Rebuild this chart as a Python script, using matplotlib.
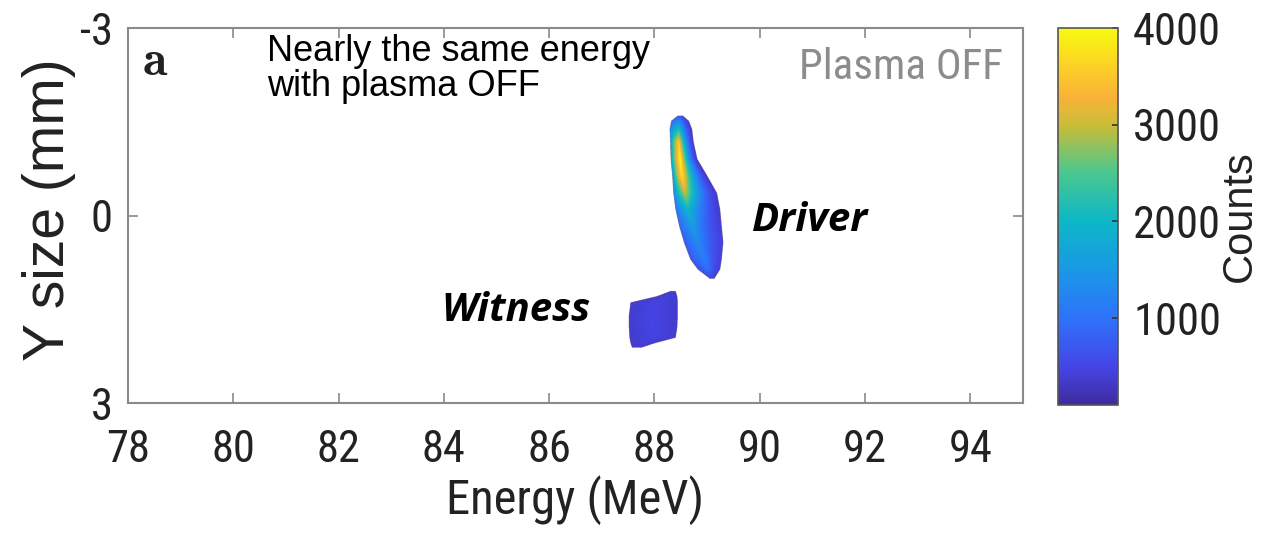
import numpy as np
import matplotlib
matplotlib.use('Agg')
import matplotlib.pyplot as plt
from matplotlib import font_manager
from matplotlib.font_manager import FontProperties
from matplotlib.colors import LinearSegmentedColormap

plt.rcParams['axes.unicode_minus'] = False

# axes ranges and ticks
energy_lim = (78, 95)
ysize_lim = (-3, 3)
energy_ticks = [78, 80, 82, 84, 86, 88, 90, 92, 94]
ysize_ticks = [-3, 0, 3]
count_lim = (100, 4000)
count_ticks = [1000, 2000, 3000, 4000]

# driver bunch, one entry per row: edges, ridge and counts (MeV, mm, counts)
driver_y = [-1.58, -1.50, -1.37, -1.16, -0.89, -0.62, -0.35, -0.09, 0.18, 0.44, 0.71, 0.87, 1.02]
driver_left = [88.44, 88.32, 88.29, 88.30, 88.31, 88.34, 88.36, 88.40, 88.47, 88.56, 88.68, 88.82, 89.05]
driver_right = [88.54, 88.65, 88.71, 88.74, 88.81, 89.00, 89.18, 89.24, 89.27, 89.30, 89.27, 89.24, 89.13]
driver_ridge = [88.49, 88.47, 88.46, 88.46, 88.49, 88.52, 88.58, 88.64, 88.73, 88.83, 88.95, 89.02, 89.09]
driver_peak = [700, 1300, 2100, 3600, 3980, 3800, 3000, 2000, 1550, 1300, 1150, 950, 500]
driver_cl = [500, 800, 1100, 1300, 1300, 1150, 1000, 850, 750, 650, 600, 500, 400]
driver_cr = [400, 380, 350, 330, 330, 330, 350, 380, 420, 450, 430, 400, 380]

# witness bunch
witness_y = [1.22, 1.30, 1.40, 1.60, 1.80, 1.96, 2.05, 2.12]
witness_left = [88.30, 88.05, 87.55, 87.52, 87.52, 87.53, 87.55, 87.58]
witness_right = [88.40, 88.43, 88.44, 88.44, 88.43, 88.40, 88.00, 87.75]
witness_peak = [380, 430, 470, 500, 500, 470, 430, 380]
witness_edge = [330, 350, 360, 370, 370, 360, 350, 330]

# parula-like colour map
parula_colors = [(0.25, 0.17, 0.62), (0.27, 0.27, 0.90), (0.18, 0.45, 0.98),
                 (0.10, 0.60, 0.90), (0.05, 0.72, 0.78), (0.30, 0.78, 0.55),
                 (0.78, 0.74, 0.22), (0.98, 0.70, 0.22), (0.99, 0.82, 0.15),
                 (0.97, 0.98, 0.06)]
parula_stops = [0.0, 0.10, 0.23, 0.36, 0.49, 0.62, 0.74, 0.82, 0.90, 1.0]


# look for a narrow sans face, the axis text is squeezed horizontally
def narrow_font_file():
	prefs = ['liberation sans narrow', 'arial narrow', 'roboto condensed', 'noto sans',
			 'open sans', 'dejavu sans']
	best = None
	for f in font_manager.fontManager.ttflist:
		name = f.name.lower()
		stretch = str(f.stretch).lower()
		fname = f.fname.lower()
		narrowish = ('narrow' in name or 'condensed' in name or 'condensed' in stretch
					 or 'condensed' in fname)
		if not narrowish or f.style != 'normal':
			continue
		if str(f.weight).lower() not in ('400', 'normal', 'regular', 'book'):
			continue
		if 'extra' in stretch or 'extra' in fname or 'ultra' in fname:
			continue
		rank = len(prefs)
		for i, p in enumerate(prefs):
			if name.startswith(p):
				rank = i
				break
		if 'semi' in stretch or 'semi' in fname:
			rank += 0.5
		if best is None or rank < best[0]:
			best = (rank, f.fname)
	return best[1] if best else None


narrow_file = narrow_font_file()


def narrow_props(size):
	if narrow_file:
		return FontProperties(fname=narrow_file, size=size)
	return FontProperties(family='Liberation Sans', size=size * 0.82)


regular = 'Liberation Sans'
bold_italic = 'Open Sans'

E = np.arange(87.2, 89.6, 0.004)
Y = np.arange(-1.8, 2.4, 0.004)
img = np.full((len(Y), len(E)), np.nan)


# fills every image row between the bunch edges
def paint(img, ys, left, right, ridge, c_left, c_peak, c_right, fall_l=0.7, fall_r=1.6):
	for i, y in enumerate(Y):
		if y < ys[0] or y > ys[-1]:
			continue
		l = np.interp(y, ys, left)
		r = np.interp(y, ys, right)
		p = np.interp(y, ys, ridge)
		p = min(max(p, l + 1e-3), r - 1e-3)
		cl = np.interp(y, ys, c_left)
		cp = np.interp(y, ys, c_peak)
		cr = np.interp(y, ys, c_right)
		tl = np.clip((E - l) / (p - l), 0, 1)
		tr = np.clip((r - E) / (r - p), 0, 1)
		row = np.where(E <= p, cl + (cp - cl) * tl ** fall_l, cr + (cp - cr) * tr ** fall_r)
		inside = (E >= l) & (E <= r)
		img[i, inside] = row[inside]


paint(img, driver_y, driver_left, driver_right, driver_ridge, driver_cl, driver_peak, driver_cr)
witness_mid = [(a + b) / 2 for a, b in zip(witness_left, witness_right)]
paint(img, witness_y, witness_left, witness_right, witness_mid, witness_edge, witness_peak,
	  witness_edge, 1.0, 1.0)

cmap = LinearSegmentedColormap.from_list('parula', list(zip(parula_stops, parula_colors)))

fig = plt.figure(figsize=(12.62, 5.37), dpi=100)
ax = fig.add_axes([0.1014, 0.2495, 0.7092, 0.6983])
im = ax.imshow(img, origin='lower', extent=[E[0], E[-1], Y[0], Y[-1]], aspect='auto',
			   cmap=cmap, vmin=count_lim[0], vmax=count_lim[1], interpolation='antialiased')
ax.set_xlim(*energy_lim)
ax.set_ylim(ysize_lim[1], ysize_lim[0])
ax.set_xticks(energy_ticks)
ax.set_yticks(ysize_ticks)

frame = '#8a8a8a'
for s in ax.spines.values():
	s.set_color(frame)
	s.set_linewidth(1.5)
ax.tick_params(direction='in', length=7, width=1.2, color=frame, labelcolor='#222222',
			   top=True, right=True)
ax.tick_params(axis='x', pad=19)
ax.tick_params(axis='y', pad=11)
for lab in ax.get_xticklabels() + ax.get_yticklabels():
	lab.set_fontproperties(narrow_props(32))

ax.set_xlabel('Energy (MeV)', fontproperties=narrow_props(35), color='#222222')
ax.xaxis.set_label_coords(0.5, -0.259)
ax.xaxis.label.set_va('center')
ax.set_ylabel('Y size (mm)', family=regular, fontsize=41, color='#222222')
ax.yaxis.set_label_coords(-0.088, 0.515)
ax.yaxis.label.set_va('center')

ax.text(0.016, 0.875, r'$\mathbf{a}$', transform=ax.transAxes, fontsize=36,
		math_fontfamily='cm', color='#222222', va='baseline')
ax.text(0.155, 0.818, 'Nearly the same energy\nwith plasma OFF', transform=ax.transAxes,
		family=regular, fontsize=26, va='baseline', linespacing=1.0)
ax.text(0.977, 0.865, 'Plasma OFF', transform=ax.transAxes, fontproperties=narrow_props(31),
		color='#8c8c8c', ha='right', va='baseline')
ax.text(0.697, 0.488, 'Driver', transform=ax.transAxes, family=bold_italic,
		fontsize=29, fontweight='bold', fontstyle='italic', va='center')
ax.text(0.350, 0.248, 'Witness', transform=ax.transAxes, family=bold_italic,
		fontsize=29, fontweight='bold', fontstyle='italic', va='center')

cax = fig.add_axes([0.8383, 0.2458, 0.0475, 0.7020])
cbar = fig.colorbar(im, cax=cax, ticks=count_ticks)
cbar.outline.set_edgecolor('#555555')
cbar.outline.set_linewidth(1.2)
cax.tick_params(direction='in', length=4, width=1.2, color='#333333', labelcolor='#222222',
				pad=11)
for lab in cax.get_yticklabels():
	lab.set_fontproperties(narrow_props(32))
cbar.set_label('Counts', family=regular, fontsize=30, color='#222222')
cax.yaxis.set_label_coords(3.03, 0.5)
cax.yaxis.label.set_va('center')

fig.savefig('out.png', dpi=100)
